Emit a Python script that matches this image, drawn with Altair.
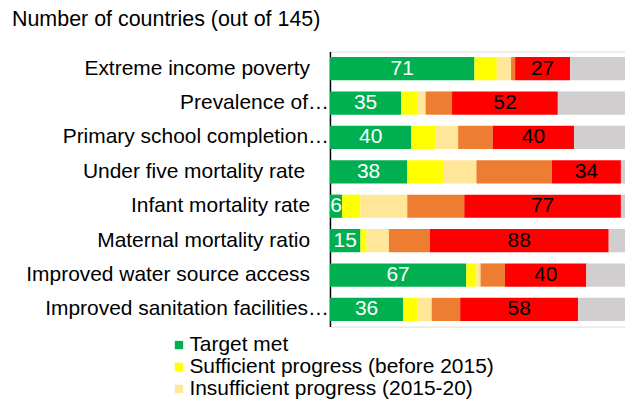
import altair as alt
import pandas as pd

indicators = [
    "Extreme income poverty",
    "Prevalence of…",
    "Primary school completion…",
    "Under five mortality rate",
    "Infant mortality rate",
    "Maternal mortality ratio",
    "Improved water source access",
    "Improved sanitation facilities…",
]
categories = [
    "Target met",
    "Sufficient progress (before 2015)",
    "Insufficient progress (2015-20)",
    "Insufficient progress (2020-30)",
    "Insufficient progress (after 2030)",
    "Insufficient data",
]
colors = ["#00B050", "#FFFF00", "#FFE699", "#ED7D31", "#FF0000", "#D0CECE"]

target_met = [71, 35, 40, 38, 6, 15, 67, 36]
sufficient = [11, 8, 12, 18, 9, 3, 5, 7]
insuff_2015_20 = [7, 4, 11, 16, 23, 11, 2, 7]
insuff_2020_30 = [2, 13, 17, 37, 28, 20, 12, 14]
insuff_after_2030 = [27, 52, 40, 34, 77, 88, 40, 58]
no_data = [27, 33, 25, 2, 2, 8, 19, 23]

series = [target_met, sufficient, insuff_2015_20, insuff_2020_30, insuff_after_2030, no_data]

rows = []
for ci, (cat, vals) in enumerate(zip(categories, series)):
    for ind, v in zip(indicators, vals):
        rows.append({"indicator": ind, "category": cat, "order": ci, "value": v})
df = pd.DataFrame(rows)
labels_df = pd.DataFrame({"indicator": indicators})

FONT = "Liberation Sans"

y_scale = alt.Scale(domain=indicators, paddingInner=0.324, paddingOuter=0.162)
y_enc = alt.Y(
    "indicator:N",
    sort=indicators,
    title=None,
    scale=y_scale,
    axis=alt.Axis(
        ticks=False,
        labels=False,
        domainColor="#000000",
        domainWidth=1.5,
    ),
)

x_scale = alt.Scale(domain=[0, 145], nice=False, zero=True)

bars = alt.Chart(df).mark_bar(size=23.3).encode(
    y=y_enc,
    x=alt.X("value:Q", stack="zero", scale=x_scale, axis=None, title=None),
    color=alt.Color(
        "category:N",
        sort=categories,
        scale=alt.Scale(domain=categories, range=colors),
        legend=alt.Legend(
            title=None,
            orient="none",
            legendX=-162,
            legendY=284,
            values=categories[:3],
            symbolType="square",
            symbolSize=70,
            symbolStrokeWidth=0,
            labelFontSize=21,
            labelFont=FONT,
            labelColor="#000000",
            labelLimit=500,
            rowPadding=0,
            labelOffset=0,
        ),
    ),
    order=alt.Order("order:Q"),
)

ellipsis_labels = [s for s in indicators if s.endswith("…")]
plain_labels = [s for s in indicators if not s.endswith("…") and s != "Under five mortality rate"]

def label_layer(names, xpix):
    return alt.Chart(labels_df).transform_filter(
        alt.FieldOneOfPredicate(field="indicator", oneOf=names)
    ).mark_text(
        fontSize=21, font=FONT, color="#000000", align="right", baseline="middle"
    ).encode(
        y=alt.Y("indicator:N", sort=indicators, scale=y_scale),
        x=alt.value(xpix),
        text="indicator:N",
    )

lab_plain = label_layer(plain_labels, -20)
lab_ell = label_layer(ellipsis_labels, -1)
lab_u5 = label_layer(["Under five mortality rate"], -25)

base_text = alt.Chart(df).transform_stack(
    stack="value", groupby=["indicator"], sort=[alt.SortField("order")], as_=["x0", "x1"]
).transform_calculate(mid="(datum.x0 + datum.x1) / 2")

green_text = base_text.transform_filter(alt.datum.order == 0).mark_text(
    fontSize=21, font=FONT, color="white", baseline="middle"
).encode(
    y=alt.Y("indicator:N", sort=indicators, scale=y_scale),
    x=alt.X("mid:Q", scale=x_scale),
    text="value:Q",
)
red_text = base_text.transform_filter(alt.datum.order == 4).mark_text(
    fontSize=21, font=FONT, color="black", baseline="middle"
).encode(
    y=alt.Y("indicator:N", sort=indicators, scale=y_scale),
    x=alt.X("mid:Q", scale=x_scale),
    text="value:Q",
)

chart = alt.layer(bars, green_text, red_text, lab_plain, lab_ell, lab_u5).properties(
    width=296,
    height=276,
    autosize=alt.AutoSizeParams(type="none"),
    padding={"left": 323, "top": 43, "right": 0, "bottom": 72},
    title=alt.TitleParams(
        "Number of countries (out of 145)",
        anchor="start",
        frame="group",
        fontSize=21.5,
        font=FONT,
        fontWeight="normal",
        color="#000000",
        dx=-319,
        offset=21,
    ),
).configure_view(stroke=None).configure(background="white")

chart.save("out.html", embed_options={"renderer": "svg", "actions": False})
